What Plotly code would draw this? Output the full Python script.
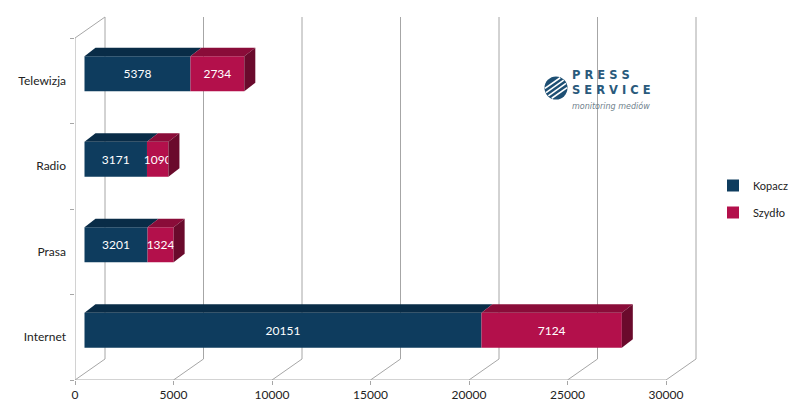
import math
import plotly.graph_objects as go

# ---------------- data ----------------
categories = ["Internet", "Prasa", "Radio", "Telewizja"]
kopacz = [20151, 3201, 3171, 5378]
szydlo = [7124, 1324, 1090, 2734]
x_ticks = [0, 5000, 10000, 15000, 20000, 25000, 30000]
series_names = ["Kopacz", "Szydło"]

# ---------------- styling ----------------
W, H = 800, 410
ML, MR, MT, MB = 75, 100, 10, 30
PW, PH = W - ML - MR, H - MT - MB
XMAX_FRONT_PX = 591.0          # pixels for 0..30000 on the front plane
BAND_PX = 85.5                 # pixels per category band
xpu = XMAX_FRONT_PX / 30000.0  # px per unit
x_range = [0, PW / xpu]
y_range = [-0.5, -0.5 + PH / BAND_PX]

def dx(px):
    return px / xpu

def dy(px):
    return px / BAND_PX

DEPTH_X, DEPTH_Y = dx(30), dy(21)        # back wall offset
FACE_X, FACE_Y = dx(9.5), dy(7)          # bar front face offset
TOP_X, TOP_Y = dx(11), dy(8.5)           # bar depth
BAR_W = dy(35)

front_cols = ["#0e3c5e", "#b3104b"]
top_cols = ["#092c47", "#8a0c39"]
side_col = "#6a0a2c"
grid_col = "#a6a6a6"
font_fam = "Lato, 'Noto Sans', sans-serif"

fig = go.Figure()

series = [kopacz, szydlo]
bases = [[0] * len(categories), kopacz]
for s, (name, vals) in enumerate(zip(series_names, series)):
    fig.add_trace(go.Bar(
        y=list(range(len(categories))), x=vals,
        base=[b + FACE_X for b in bases[s]],
        orientation="h", name=name, legendgroup=name,
        marker=dict(color=front_cols[s], line=dict(width=0)),
        width=BAR_W, offset=FACE_Y - BAR_W / 2,
        text=[str(v) for v in vals], textposition="inside",
        insidetextanchor="middle", textangle=0,
        textfont=dict(color="white", size=12, family=font_fam),
        hoverinfo="skip",
    ))

for i in range(len(categories)):
    y_top = i + FACE_Y - BAR_W / 2 + BAR_W
    y_bot = i + FACE_Y - BAR_W / 2
    for s in range(2):
        x0 = bases[s][i] + FACE_X
        x1 = x0 + series[s][i]
        fig.add_trace(go.Scatter(
            x=[x0, x1, x1 + TOP_X, x0 + TOP_X, x0],
            y=[y_top, y_top, y_top + TOP_Y, y_top + TOP_Y, y_top],
            mode="lines", fill="toself", fillcolor=top_cols[s],
            line=dict(width=0, color=top_cols[s]), showlegend=False,
            hoverinfo="skip"))
    xe = kopacz[i] + szydlo[i] + FACE_X
    fig.add_trace(go.Scatter(
        x=[xe, xe + TOP_X, xe + TOP_X, xe, xe],
        y=[y_bot, y_bot + TOP_Y, y_top + TOP_Y, y_top, y_bot],
        mode="lines", fill="toself", fillcolor=side_col,
        line=dict(width=0, color=side_col), showlegend=False,
        hoverinfo="skip"))

shapes = []
y0, y1 = -0.5, len(categories) - 0.5
for v in x_ticks:
    shapes.append(dict(type="line", xref="x", yref="y", layer="below",
                       x0=v + DEPTH_X, x1=v + DEPTH_X, y0=y0 + DEPTH_Y, y1=y1 + DEPTH_Y,
                       line=dict(color=grid_col, width=1)))
    shapes.append(dict(type="line", xref="x", yref="y", layer="below",
                       x0=v, x1=v + DEPTH_X, y0=y0, y1=y0 + DEPTH_Y,
                       line=dict(color=grid_col, width=1)))
shapes.append(dict(type="line", xref="x", yref="y", layer="below",
                   x0=0, x1=x_ticks[-1], y0=y0, y1=y0,
                   line=dict(color=grid_col, width=1)))
shapes.append(dict(type="line", xref="x", yref="y", layer="below",
                   x0=0, x1=0, y0=y0, y1=y1, line=dict(color=grid_col, width=1)))
shapes.append(dict(type="line", xref="x", yref="y", layer="below",
                   x0=0, x1=DEPTH_X, y0=y1, y1=y1 + DEPTH_Y,
                   line=dict(color=grid_col, width=1)))

# ---------------- logo ----------------
def px2paper(px, py):
    return (px - ML) / PW, (H - MB - py) / PH

cx, cy, r = 556, 88, 11.5
ax0, ay0 = px2paper(cx - r, cy + r)
ax1, ay1 = px2paper(cx + r, cy - r)
shapes.append(dict(type="circle", xref="paper", yref="paper",
                   x0=ax0, y0=ay0, x1=ax1, y1=ay1,
                   fillcolor="#1d4f73", line=dict(width=0)))
for off in [-6, -2, 2, 6]:
    ang = math.radians(35)
    ux, uy = math.cos(ang), -math.sin(ang)
    nx, ny = math.sin(ang), math.cos(ang)
    half = math.sqrt(r * r - off * off) * 0.95
    mx, my = cx + nx * off, cy + ny * off
    p0 = px2paper(mx - ux * half, my - uy * half)
    p1 = px2paper(mx + ux * half, my + uy * half)
    shapes.append(dict(type="line", xref="paper", yref="paper",
                       x0=p0[0], y0=p0[1], x1=p1[0], y1=p1[1],
                       line=dict(color="white", width=1.6)))

lx, ly = px2paper(570, 89)
annotations = [dict(
    x=lx, y=ly, xref="paper", yref="paper", showarrow=False,
    xanchor="left", yanchor="middle", align="left",
    text=("<b>P R E S S</b><br><b>S E R V I C E</b><br>"
          "<span style='font-size:8px;color:#6f7f8c'><i>monitoring mediów</i></span>"),
    font=dict(size=11.5, color="#2a5a7c", family="'DejaVu Sans', sans-serif"),
)]

lgx, lgy = px2paper(713, 171)
fig.update_layout(
    width=W, height=H,
    margin=dict(l=ML, r=MR, t=MT, b=MB, autoexpand=False),
    paper_bgcolor="white", plot_bgcolor="white",
    barmode="overlay",
    uniformtext=dict(minsize=12, mode="show"),
    shapes=shapes, annotations=annotations,
    font=dict(family=font_fam, size=12, color="#222"),
    xaxis=dict(range=x_range, tickvals=x_ticks, ticktext=[str(v) for v in x_ticks],
               showgrid=False, zeroline=False, showline=False,
               ticks="outside", ticklen=4, tickcolor=grid_col,
               tickfont=dict(size=12, color="#222", family=font_fam)),
    yaxis=dict(range=y_range, tickvals=list(range(len(categories))), ticktext=categories,
               showgrid=False, zeroline=False, showline=False, ticks="",
               ticklabelstandoff=8,
               minor=dict(tickvals=[i - 0.5 for i in range(len(categories) + 1)],
                          ticks="outside", ticklen=4, tickcolor=grid_col, showgrid=False),
               tickfont=dict(size=12, color="#222", family=font_fam)),
    legend=dict(xref="paper", yref="paper", x=lgx, y=lgy,
                xanchor="left", yanchor="top", traceorder="grouped",
                tracegroupgap=8, font=dict(size=11, color="#222", family=font_fam),
                itemwidth=30, bgcolor="rgba(0,0,0,0)"),
    showlegend=True,
)

fig.write_html("out.html")
